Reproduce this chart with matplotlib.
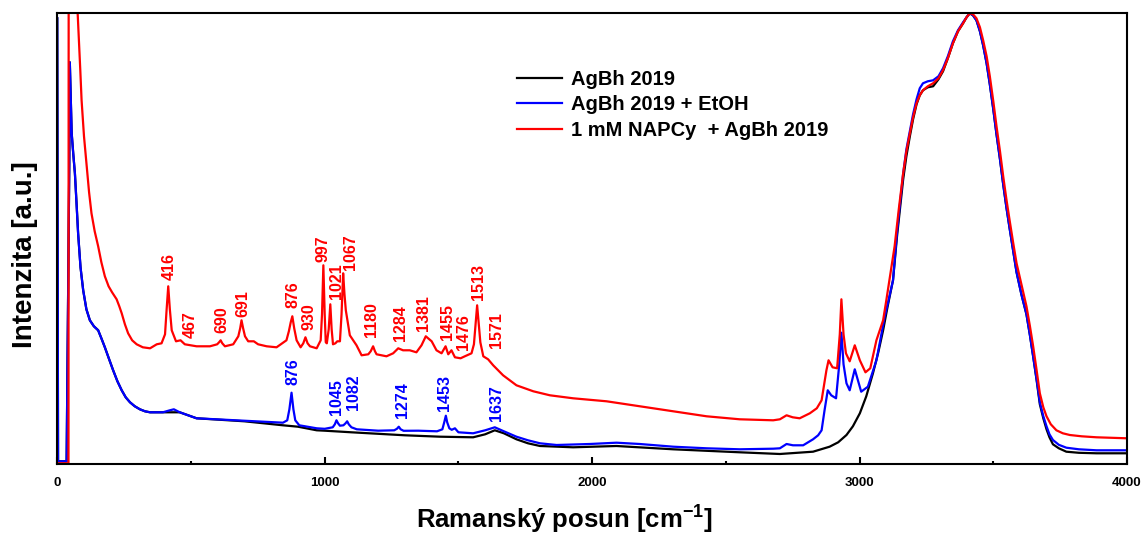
import matplotlib
matplotlib.use('Agg')
import matplotlib.pyplot as plt

# ── data (x in cm-1, intensity in a.u.) ─────────────────────────────────────
red_x = [0, 40, 42, 43, 71, 73, 80, 86, 91, 100, 110, 119, 128, 140, 153, 165, 178, 192,
         205, 222, 232, 241, 253, 265, 280, 297, 320, 347, 372, 390,
         403, 409, 415, 421, 428, 444, 461, 477, 521, 571, 598, 605, 611, 617, 627, 658, 677,
         684, 689, 695, 702, 714, 735, 751, 783, 820, 857, 866, 873, 879, 886, 895, 910, 920,
         928, 936, 945, 970, 985, 990, 995, 1000, 1004, 1008, 1015, 1021, 1026, 1031, 1040,
         1047, 1057, 1063, 1069, 1074, 1079, 1094, 1119, 1138, 1163, 1172, 1181, 1188, 1194,
         1231, 1256, 1275, 1293, 1318, 1343, 1362, 1378, 1400, 1418, 1437, 1452, 1462, 1474,
         1487, 1508, 1524, 1549, 1558, 1564, 1570, 1576, 1582, 1593, 1611, 1630, 1667, 1717,
         1780, 1842, 1929, 2054, 2178, 2303, 2428, 2552, 2677, 2702, 2727, 2750, 2776, 2814,
         2840, 2858, 2876, 2884, 2899, 2916, 2926, 2932, 2940, 2949, 2963, 2982, 3001, 3022,
         3040, 3063, 3088, 3100, 3115, 3131, 3147, 3163, 3175, 3188, 3200, 3213, 3225, 3237,
         3255, 3275, 3295, 3312, 3330, 3349, 3368, 3387, 3400, 3412, 3424, 3437, 3450, 3462,
         3475, 3487, 3500, 3512, 3525, 3537, 3549, 3561, 3574, 3587, 3605, 3624, 3637, 3649,
         3662, 3674, 3687, 3699, 3715, 3736, 3760, 3786, 3830, 3886, 4000]
red_y = [1, 1, 1, 700, 700, 470, 430, 395, 364, 328, 298, 272, 251, 233, 218, 202, 188, 178,
         172, 165, 158, 151, 140, 131, 124, 120, 117, 116, 120, 121,
         130, 155, 178, 155, 134, 123, 124, 120, 118, 118, 120, 122, 124, 121, 118, 120, 128,
         136, 144, 136, 128, 123, 123, 120, 118, 117, 124, 133, 142, 148, 136, 124, 117, 121,
         127, 121, 118, 116, 124, 150, 199, 150, 122, 121, 135, 160, 135, 120, 121,
         123, 123, 150, 191, 170, 154, 129, 119, 109, 110, 113, 118, 113, 110,
         108, 111, 116, 114, 114, 112, 119, 128, 123, 114, 111, 118, 110, 114,
         107, 106, 108, 111, 120, 140, 159, 140, 122, 108, 105, 99, 89, 79,
         73, 69, 66, 63, 58, 53, 48, 45, 44, 45, 49, 47, 46, 51,
         56, 64, 94, 104, 97, 96, 130, 165, 130, 111, 103, 119, 104, 92,
         96, 124, 144, 164, 190, 218, 256, 291, 313, 331, 347, 361, 369, 374,
         378, 381, 386, 394, 406, 421, 433, 441, 447, 451, 450, 446, 437, 424,
         408, 388, 363, 338, 313, 288, 265, 244, 222, 201, 180, 158, 138, 118,
         94, 71, 57, 48, 40, 34, 31, 29.3, 28, 27, 26]

blue_x = [0, 3, 35, 45, 47, 54, 60, 66, 72, 78, 87, 97, 109, 122, 137, 153, 165, 178, 194,
          209, 225, 241, 256, 272, 290, 309, 328, 347, 395,
          421, 436, 458, 521, 700, 844, 860, 868, 876, 883, 890, 905, 970, 1000, 1030,
          1038, 1044, 1050, 1057, 1070, 1078, 1084, 1090, 1100, 1120, 1200, 1260, 1270,
          1277, 1284, 1295, 1350, 1420, 1440, 1447, 1453, 1458, 1466, 1475, 1487, 1500,
          1555, 1600, 1636, 1670, 1717, 1760, 1805, 1867, 1991, 2091, 2178, 2303, 2428, 2552,
          2677, 2702, 2727, 2751, 2789, 2826, 2845, 2858, 2869, 2881, 2894, 2912, 2924, 2932,
          2940, 2951, 2963, 2982, 3006, 3031, 3063, 3094, 3110, 3125, 3140, 3163, 3175, 3188,
          3200, 3213, 3225, 3237, 3255, 3275, 3295, 3312, 3330, 3349, 3368, 3387, 3400, 3412,
          3424, 3437, 3450, 3462, 3475, 3487, 3500, 3512, 3525, 3537, 3549, 3561, 3574, 3587,
          3605, 3624, 3637, 3649, 3662, 3674, 3687, 3699, 3710, 3723, 3745, 3773, 3820, 3886,
          4000]
blue_y = [446, 3, 3, 300, 402, 331, 310, 291, 262, 231, 197, 174, 155, 144, 138, 134, 126, 117,
          105, 94, 83, 74, 67, 62, 58, 55, 53, 52, 52,
          54, 55, 52, 46, 43.5, 41.6, 44, 55, 71.6, 55, 44, 39, 36, 35.5, 37,
          40, 44, 41, 38.6, 39, 41, 43, 40, 37, 35, 33.6, 34, 35.5,
          37.6, 35, 33.5, 33.6, 33, 35, 42, 48.6, 42, 36, 34.5, 36, 32,
          31, 34, 37, 33, 27.6, 24, 21, 19.3, 20.3, 21.6, 20.3, 17.6, 16, 15,
          15.6, 16, 20.3, 19, 19, 25, 29, 34, 54, 74, 69, 66, 100, 131.6,
          100, 81, 74, 95, 72.6, 77.6, 104, 147.6, 166, 184, 232, 291, 315, 333,
          350, 365, 376, 381, 383, 384, 388, 396, 408, 423, 434, 442, 447, 451,
          449, 444, 433, 419, 401, 380, 355, 330, 305, 280, 257, 236, 214, 192,
          170, 150, 129, 108, 85, 62, 48, 38, 30, 24.3, 19.5, 16.6, 15, 14,
          14]

black_x = [0, 3, 35, 45, 47, 54, 60, 66, 72, 78, 87, 97, 109, 122, 137, 153, 165, 178, 194,
           209, 225, 241, 256, 272, 290, 309, 328, 347, 395,
           458, 521, 700, 844, 900, 970, 1000, 1100, 1200, 1300, 1431, 1555, 1600, 1636,
           1670, 1717, 1760, 1805, 1929, 2091, 2303, 2552, 2702, 2826, 2888, 2920, 2951, 2975,
           3001, 3025, 3050, 3070, 3088, 3105, 3125, 3140, 3163, 3175, 3188, 3200, 3213, 3225,
           3237, 3255, 3275, 3295, 3312, 3330, 3349, 3368, 3387, 3400, 3412, 3424, 3437, 3450,
           3462, 3475, 3487, 3500, 3512, 3525, 3537, 3549, 3561, 3574, 3587, 3605, 3624, 3637,
           3649, 3662, 3674, 3687, 3699, 3710, 3723, 3745, 3773, 3820, 3886, 4000]
black_y = [446, 3, 3, 300, 402, 331, 310, 291, 262, 231, 197, 174, 155, 144, 138, 134, 126, 117,
           105, 94, 83, 74, 67, 62, 58, 55, 53, 52, 52,
           52, 46, 43, 39, 37.6, 34, 33.6, 32, 30.5, 29, 27.6, 27, 30, 34,
           31, 25, 21, 18.3, 17, 18.3, 15, 12, 10.3, 12.6, 17.6, 22, 29.3, 38,
           51, 68, 91, 112, 134, 158, 184, 228, 285, 308, 328, 345, 360, 369,
           374, 377, 378, 385, 393, 406, 421, 433, 441, 447, 451, 449, 444, 433,
           419, 401, 380, 355, 330, 305, 280, 257, 236, 214, 192, 170, 150, 129,
           108, 84, 60, 46, 35, 27, 20, 16, 12.6, 11.5, 11, 11]

series_labels = ['AgBh 2019', 'AgBh 2019 + EtOH', '1 mM NAPCy  + AgBh 2019']

# peak labels: (text, x, y of label bottom)
red_peaks = [('416', 419, 184), ('467', 496, 126), ('690', 615, 131), ('691', 693, 147),
             ('876', 880, 156), ('930', 941, 134), ('997', 994, 202), ('1021', 1044, 165),
             ('1067', 1098, 194), ('1180', 1175, 127), ('1284', 1284, 123), ('1381', 1371, 133),
             ('1455', 1458, 124), ('1476', 1520, 114), ('1513', 1574, 164), ('1571', 1643, 116)]
blue_peaks = [('876', 880, 79), ('1045', 1044, 49), ('1082', 1109, 54), ('1274', 1290, 46),
              ('1453', 1449, 53), ('1637', 1643, 43)]

# ── fonts ────────────────────────────────────────────────────────────────────
plt.rcParams['font.family'] = ['Liberation Sans', 'DejaVu Sans']
plt.rcParams['mathtext.fontset'] = 'custom'
plt.rcParams['mathtext.bf'] = 'Liberation Sans:bold'
plt.rcParams['mathtext.rm'] = 'Liberation Sans'

# ── plot ─────────────────────────────────────────────────────────────────────
fig = plt.figure(figsize=(11.45, 5.33), dpi=100)
ax = fig.add_axes([0.05, 0.1289, 0.9343, 0.8473])

kw = dict(lw=1.6, solid_joinstyle='round')
ax.plot(black_x, black_y, color='black', label=series_labels[0], **kw)
ax.plot(blue_x, blue_y, color='#0000ff', label=series_labels[1], **kw)
ax.plot(red_x, red_y, color='#ff0000', label=series_labels[2], **kw)

for txt, x, y in red_peaks:
    ax.text(x, y, txt, rotation=90, ha='center', va='bottom', color='#ff0000',
            fontsize=11.5, fontweight='bold')
for txt, x, y in blue_peaks:
    ax.text(x, y, txt, rotation=90, ha='center', va='bottom', color='#0000ff',
            fontsize=11.5, fontweight='bold')

ax.set_xlim(0, 4000)
ax.set_ylim(0, 451.6)
ax.set_xticks([0, 1000, 2000, 3000, 4000])
ax.set_xticks([500, 1500, 2500, 3500], minor=True)
ax.set_yticks([])
ax.tick_params(axis='x', which='major', direction='in', length=5, width=1.5, pad=9)
ax.tick_params(axis='x', which='minor', direction='in', length=2.5, width=1.5)
for lab in ax.get_xticklabels():
    lab.set_fontweight('bold')
    lab.set_fontsize(9.5)
for sp in ax.spines.values():
    sp.set_linewidth(1.5)

ax.set_xlabel('Ramanský posun [cm$^{\\mathbf{-1}}$]', fontsize=18.5, fontweight='bold')
ax.xaxis.set_label_coords(0.4745, -0.084)
ax.set_ylabel('Intenzita [a.u.]', fontsize=20, fontweight='bold')
ax.yaxis.set_label_coords(-0.018, 0.4635)

leg = ax.legend(loc='upper left', bbox_to_anchor=(0.4296, 0.874), frameon=False,
                prop={'weight': 'bold', 'size': 14.5}, handlelength=2.25,
                handletextpad=0.42, labelspacing=0.33, borderpad=0, borderaxespad=0)

plt.savefig('out.png', dpi=100)
